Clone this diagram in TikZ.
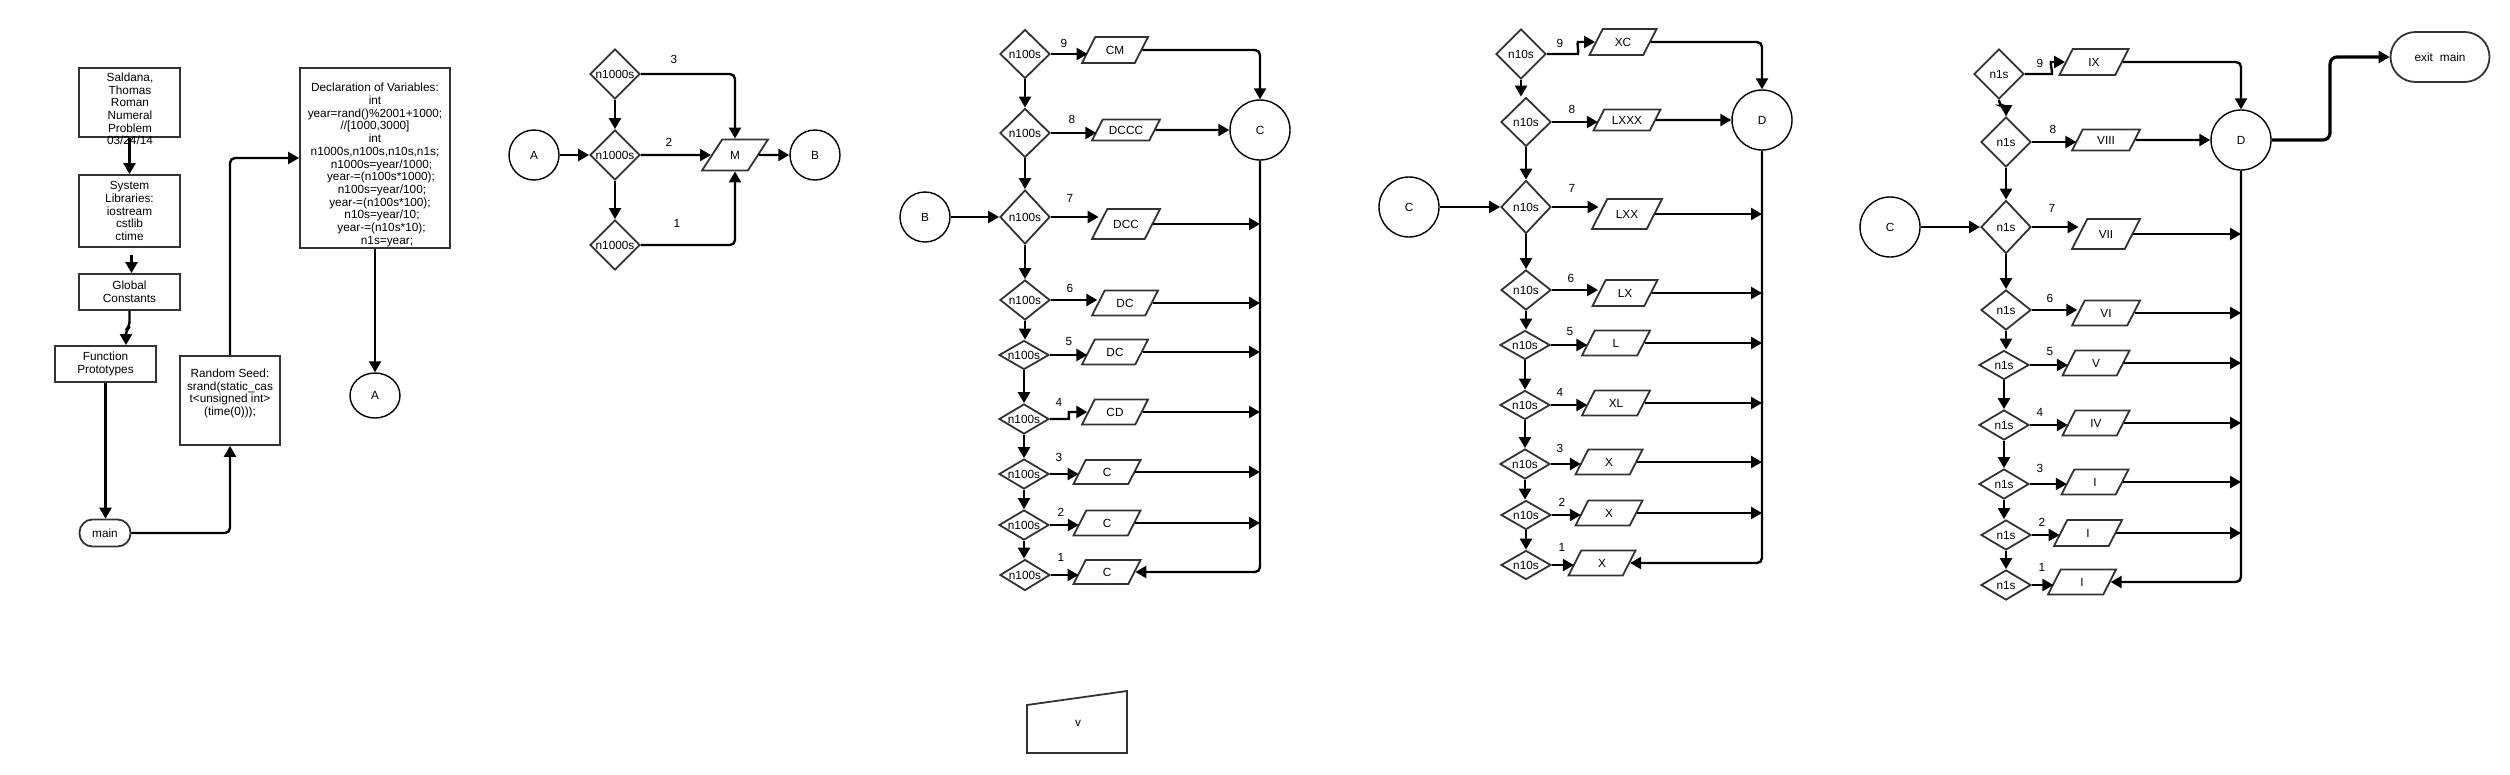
\documentclass[tikz,border=0pt]{standalone}
\usepackage{fontspec}
\setmainfont{Liberation Sans}
\usetikzlibrary{shapes.geometric,arrows.meta,calc}
\newcommand\myfs{\fontsize{11.8}{12.7}\selectfont}
\definecolor{shapegray}{HTML}{333333}
\tikzset{
  shp/.style={draw=shapegray, line width=1.8pt},
  box/.style={shp, rectangle, inner sep=0pt, align=center},
  dia/.style={shp, diamond, inner sep=0pt, minimum width=50pt},
  para/.style={shp, trapezium, trapezium left angle=63, trapezium right angle=117,
    trapezium stretches body, inner xsep=0pt, text height=8.5pt, text depth=0pt,
    inner ysep={(#1pt-8.5pt)/2}, minimum width=67pt},
  para/.default=25,
  circ/.style={draw=black, line width=1.4pt, circle, inner sep=0pt},
  arr/.style={draw=black, line width=2.4pt, rounded corners=5pt, -{Triangle[length=11pt,width=12pt]}},
  lbl/.style={inner sep=0pt},
  txt/.style={align=center, inner sep=0pt},
  every label/.style={inner sep=0pt}
}
\begin{document}
\begin{tikzpicture}[x=1pt, y=-1pt, font=\myfs]
\useasboundingbox (0,0) rectangle (2510,774);
\fill[white] (0,0) rectangle (2510,774);

% ---------- section 1 ----------
\node[box, minimum width=101pt, minimum height=69pt] (sald) at (129.5,102.5) {};
\node[txt] (saldt) at (130,109) {Saldana,\\Thomas\\Roman\\Numeral\\Problem\\03/24/14};
\node[box, minimum width=101pt, minimum height=72pt] (sys) at (129.5,211) {System\\Libraries:\\iostream\\cstlib\\ctime};
\node[box, minimum width=101pt, minimum height=36pt] (glob) at (129.5,292) {Global\\Constants};
\node[box, minimum width=101pt, minimum height=36pt] (func) at (105.5,364) {Function\\Prototypes};
\node[shp, rounded corners=13pt, minimum width=51pt, minimum height=27pt, inner sep=0pt] (main) at (105,533) {main};
\node[box, minimum width=100pt, minimum height=89pt] (rand) at (230,400.5) {};
\node[txt] (randt) at (230,393.5) {Random Seed:\\srand(static\_cas\\t<unsigned int>\\(time(0)));};
\node[box, minimum width=150pt, minimum height=180pt] (decl) at (375,158) {};
\node[txt] (declt) at (375,165) {Declaration of Variables:\\int\\year=rand()\%2001+1000;\\//[1000,3000]\\int\\n1000s,n100s,n10s,n1s;\\
\hspace*{13pt}n1000s=year/1000;\\\hspace*{12pt}year-=(n100s*1000);\\\hspace*{14pt}n100s=year/100;\\\hspace*{10pt}year-=(n100s*100);\\\hspace*{14pt}n10s=year/10;\\\hspace*{13pt}year-=(n10s*10);\\\hspace*{24pt}n1s=year;};
\node[circ, ellipse, minimum width=50pt, minimum height=45pt] (A1) at (375,395.5) {A};
\coordinate (sg) at (131.5,255);
\coordinate (fx) at (126,0);

\draw[arr] (sald.south) -- (sys.north);
\draw[arr] (sg) -- (sg |- glob.north);
\draw[arr] (glob.south) -- ++(0,16) -- ++(-3.5,3) -- (func.north -| fx);
\draw[arr] (func.south) -- (func.south |- main.north);
\draw[arr] (main) -| (rand);
\draw[arr] (rand) |- (decl);
\draw[arr] (decl.south) -- (A1.north);

% ---------- section 2 : n1000s ----------
\node[dia, minimum height=50pt, label=center:n1000s] (k3) at (615,74) {};
\node[dia, minimum height=50pt, label=center:n1000s] (k2) at (615,155) {};
\node[dia, minimum height=50pt, label=center:n1000s] (k1) at (615,245) {};
\node[circ, minimum size=50pt] (A2) at (534,155) {A};
\node[para=31, trapezium left angle=57, trapezium right angle=123, minimum width=66pt] (M) at (735,155) {M};
\node[circ, minimum size=50pt] (B2) at (815,155) {B};
\node[lbl] (k3l) at (674,59) {3};
\node[lbl] (k2l) at (669,142) {2};
\node[lbl] (k1l) at (677,223) {1};
\draw[arr] (k3) -| (M);
\draw[arr] (k2) -- (M);
\draw[arr] (k1) -| (M);
\draw[arr] (k3) -- (k2);
\draw[arr] (k2) -- (k1);
\draw[arr] (A2) -- (k2);
\draw[arr] (M) -- (B2);

% ---------- section 3 : n100s ----------
\node[dia, minimum height=49pt, label=center:n100s] (h9) at (1025,54) {};
\node[para=26, minimum width=66pt] (h9p) at (1115,50) {CM};
\node[lbl] (h9l) at (1064,43) {9};
\node[dia, minimum height=49pt, label=center:n100s] (h8) at (1025,133) {};
\node[para=21, minimum width=68pt] (h8p) at (1126,130) {DCCC};
\node[lbl] (h8l) at (1072,119) {8};
\node[circ, minimum size=60pt] (C1) at (1260,130) {C};
\node[circ, minimum size=50pt] (B1) at (925,217) {B};
\node[dia, minimum height=54pt, label=center:n100s] (h7) at (1025,217) {};
\node[para=30, minimum width=68pt] (h7p) at (1126,224) {DCC};
\node[lbl] (h7l) at (1070,198) {7};
\node[dia, minimum height=40pt, label=center:n100s] (h6) at (1025,300) {};
\node[para, minimum width=66pt] (h6p) at (1125,303) {DC};
\node[lbl] (h6l) at (1070,288) {6};
\node[dia, minimum height=29pt, label=center:n100s] (h5) at (1024,355) {};
\node[para, minimum width=66pt] (h5p) at (1115,352) {DC};
\node[lbl] (h5l) at (1069,341) {5};
\node[dia, minimum height=30pt, label=center:n100s] (h4) at (1024,419) {};
\node[para, minimum width=66pt] (h4p) at (1115,412) {CD};
\node[lbl] (h4l) at (1059,402) {4};
\node[dia, minimum height=30pt, label=center:n100s] (h3) at (1024,474) {};
\node[para=24] (h3p) at (1107,472) {C};
\node[lbl] (h3l) at (1059,457) {3};
\node[dia, minimum height=30pt, label=center:n100s] (h2) at (1024,525) {};
\node[para] (h2p) at (1107,523) {C};
\node[lbl] (h2l) at (1061,512) {2};
\node[dia, minimum height=31pt, label=center:n100s] (h1) at (1025,575) {};
\node[para=24] (h1p) at (1107,572) {C};
\node[lbl] (h1l) at (1061,557) {1};

\draw[arr] (h9.south) -- (h9.south |- h8.north);
\draw[arr] (h8.south) -- (h8.south |- h7.north);
\draw[arr] (h7.south) -- (h7.south |- h6.north);
\draw[arr] (h6.south) -- (h6.south |- h5.north);
\draw[arr] (h5.south) -- (h5.south |- h4.north);
\draw[arr] (h4.south) -- (h4.south |- h3.north);
\draw[arr] (h3.south) -- (h3.south |- h2.north);
\draw[arr] (h2.south) -- (h2.south |- h1.north);
\draw[arr] (h9.east) -- (h9.east -| h9p.west);
\draw[arr] (h9p.east) -| (C1.north);
\draw[arr] (h8.east) -- (h8.east -| h8p.west);
\draw[arr] (h8p) -- (C1);
\draw[arr] (B1) -- (h7);
\draw[arr] (h7.east) -- (h7.east -| h7p.west);
\draw[arr] (h6.east) -- (h6.east -| h6p.west);
\draw[arr] (h5.east) -- (h5.east -| h5p.west);
\draw[arr] (h4.east) -- ++(14,0) to[out=0,in=180] ++(10,-7) -- (h4p.west);
\draw[arr] (h3.east) -- (h3.east -| h3p.west);
\draw[arr] (h2.east) -- (h2.east -| h2p.west);
\draw[arr] (h1.east) -- (h1.east -| h1p.west);
\draw[arr] (h7p.east) -- (h7p.east -| C1.south);
\draw[arr] (h6p.east) -- (h6p.east -| C1.south);
\draw[arr] (h5p.east) -- (h5p.east -| C1.south);
\draw[arr] (h4p.east) -- (h4p.east -| C1.south);
\draw[arr] (h3p.east) -- (h3p.east -| C1.south);
\draw[arr] (h2p.east) -- (h2p.east -| C1.south);
\draw[arr] (C1.south) |- (h1p.east);

% ---------- section 4 : n10s ----------
\node[dia, minimum height=50pt, label=center:n10s] (t9) at (1521,54) {};
\node[para=26] (t9p) at (1623,42) {XC};
\node[lbl] (t9l) at (1560,43) {9};
\node[circ, minimum size=60pt] (D1) at (1762,120) {D};
\node[dia, minimum height=49pt, label=center:n10s] (t8) at (1526,122) {};
\node[para=21] (t8p) at (1627,120) {LXXX};
\node[lbl] (t8l) at (1572,109) {8};
\node[circ, minimum size=60pt] (C2) at (1409,207) {C};
\node[dia, minimum height=53pt, label=center:n10s] (t7) at (1526,207) {};
\node[para=30, minimum width=70pt] (t7p) at (1627,214) {LXX};
\node[lbl] (t7l) at (1572,188) {7};
\node[dia, minimum height=40pt, label=center:n10s] (t6) at (1526,290) {};
\node[para=26, minimum width=65pt] (t6p) at (1625,293) {LX};
\node[lbl] (t6l) at (1571,278) {6};
\node[dia, minimum height=29pt, label=center:n10s] (t5) at (1525,345) {};
\node[para, minimum width=68pt] (t5p) at (1616,343) {L};
\node[lbl] (t5l) at (1570,331) {5};
\node[dia, minimum height=29pt, label=center:n10s] (t4) at (1525,405) {};
\node[para, minimum width=68pt] (t4p) at (1616,403) {XL};
\node[lbl] (t4l) at (1560,392) {4};
\node[dia, minimum height=30pt, label=center:n10s] (t3) at (1525,464) {};
\node[para] (t3p) at (1609,462) {X};
\node[lbl] (t3l) at (1560,448) {3};
\node[dia, minimum height=29pt, label=center:n10s] (t2) at (1526,515) {};
\node[para] (t2p) at (1609,513) {X};
\node[lbl] (t2l) at (1562,502) {2};
\node[dia, minimum height=29pt, label=center:n10s] (t1) at (1526,565) {};
\node[para] (t1p) at (1602,563) {X};
\node[lbl] (t1l) at (1562,547) {1};

\draw[arr] (t9.south) -- (t9.south |- t8.north);
\draw[arr] (t8.south) -- (t8.south |- t7.north);
\draw[arr] (t7.south) -- (t7.south |- t6.north);
\draw[arr] (t6.south) -- (t6.south |- t5.north);
\draw[arr] (t5.south) -- (t5.south |- t4.north);
\draw[arr] (t4.south) -- (t4.south |- t3.north);
\draw[arr] (t3.south) -- (t3.south |- t2.north);
\draw[arr] (t2.south) -- (t2.south |- t1.north);
\draw[arr] (t9.east) -- ++(26,0) to[out=0,in=180] ++(10,-12) -- (t9p.west);
\draw[arr] (t9p.east) -| (D1.north);
\draw[arr] (t8.east) -- (t8.east -| t8p.west);
\draw[arr] (t8p) -- (D1);
\draw[arr] (C2) -- (t7);
\draw[arr] (t7.east) -- (t7.east -| t7p.west);
\draw[arr] (t6.east) -- (t6.east -| t6p.west);
\draw[arr] (t5.east) -- (t5.east -| t5p.west);
\draw[arr] (t4.east) -- (t4.east -| t4p.west);
\draw[arr] (t3.east) -- (t3.east -| t3p.west);
\draw[arr] (t2.east) -- (t2.east -| t2p.west);
\draw[arr] (t1.east) -- (t1.east -| t1p.west);
\draw[arr] (t7p.east) -- (t7p.east -| D1.south);
\draw[arr] (t6p.east) -- (t6p.east -| D1.south);
\draw[arr] (t5p.east) -- (t5p.east -| D1.south);
\draw[arr] (t4p.east) -- (t4p.east -| D1.south);
\draw[arr] (t3p.east) -- (t3p.east -| D1.south);
\draw[arr] (t2p.east) -- (t2p.east -| D1.south);
\draw[arr] (D1.south) |- (t1p.east);

% ---------- section 5 : n1s ----------
\node[dia, minimum height=50pt, label=center:n1s] (o9) at (1999,74) {};
\node[para=26, minimum width=69pt] (o9p) at (2094,62) {IX};
\node[lbl] (o9l) at (2040,63) {9};
\node[circ, minimum size=60pt] (D2) at (2241,140) {D};
\node[dia, minimum height=50pt, label=center:n1s] (o8) at (2006,142) {};
\node[para=21, minimum width=68pt] (o8p) at (2106,140) {VIII};
\node[lbl] (o8l) at (2053,129) {8};
\node[shp, rounded corners=25pt, minimum width=99pt, minimum height=50pt, inner sep=0pt] (exit) at (2440,57) {exit\hspace{7pt}main};
\node[circ, minimum size=60pt] (C3) at (1890,227) {C};
\node[dia, minimum height=53pt, label=center:n1s] (o7) at (2006,227) {};
\node[para=30, minimum width=68pt] (o7p) at (2106,234) {VII};
\node[lbl] (o7l) at (2052,208) {7};
\node[dia, minimum height=40pt, label=center:n1s] (o6) at (2006,310) {};
\node[para, minimum width=68pt] (o6p) at (2106,313) {VI};
\node[lbl] (o6l) at (2050,298) {6};
\node[dia, minimum height=29pt, label=center:n1s] (o5) at (2004,365) {};
\node[para] (o5p) at (2096,363) {V};
\node[lbl] (o5l) at (2050,351) {5};
\node[dia, minimum height=30pt, label=center:n1s] (o4) at (2004,425) {};
\node[para] (o4p) at (2096,423) {IV};
\node[lbl] (o4l) at (2040,412) {4};
\node[dia, minimum height=30pt, label=center:n1s] (o3) at (2004,484) {};
\node[para] (o3p) at (2095,482) {I};
\node[lbl] (o3l) at (2040,468) {3};
\node[dia, minimum height=30pt, label=center:n1s] (o2) at (2006,535) {};
\node[para=26, minimum width=68pt] (o2p) at (2088,533) {I};
\node[lbl] (o2l) at (2042,522) {2};
\node[dia, minimum height=30pt, label=center:n1s] (o1) at (2006,585) {};
\node[para, minimum width=68pt] (o1p) at (2082,582) {I};
\node[lbl] (o1l) at (2042,567) {1};
\coordinate (ej) at (2330,140);

\draw[arr] (o9.south) -- ++(0,6) -| (o8.north);
\draw[arr] (o8.south) -- (o8.south |- o7.north);
\draw[arr] (o7.south) -- (o7.south |- o6.north);
\draw[arr] (o6.south) -- (o6.south |- o5.north);
\draw[arr] (o5.south) -- (o5.south |- o4.north);
\draw[arr] (o4.south) -- (o4.south |- o3.north);
\draw[arr] (o3.south) -- (o3.south |- o2.north);
\draw[arr] (o2.south) -- (o2.south |- o1.north);
\draw[arr] (o9.east) -- ++(22,0) to[out=0,in=180] ++(9,-12) -- (o9p.west);
\draw[arr] (o9p.east) -| (D2.north);
\draw[arr] (o8.east) -- (o8.east -| o8p.west);
\draw[arr] (o8p) -- (D2);
\draw[arr, line width=3.2pt, rounded corners=7pt] (D2.east) -- (ej) |- (exit.west);
\draw[arr] (C3) -- (o7);
\draw[arr] (o7.east) -- (o7.east -| o7p.west);
\draw[arr] (o6.east) -- (o6.east -| o6p.west);
\draw[arr] (o5.east) -- (o5.east -| o5p.west);
\draw[arr] (o4.east) -- (o4.east -| o4p.west);
\draw[arr] (o3.east) -- (o3.east -| o3p.west);
\draw[arr] (o2.east) -- (o2.east -| o2p.west);
\draw[arr] (o1.east) -- (o1.east -| o1p.west);
\draw[arr] (o7p.east) -- (o7p.east -| D2.south);
\draw[arr] (o6p.east) -- (o6p.east -| D2.south);
\draw[arr] (o5p.east) -- (o5p.east -| D2.south);
\draw[arr] (o4p.east) -- (o4p.east -| D2.south);
\draw[arr] (o3p.east) -- (o3p.east -| D2.south);
\draw[arr] (o2p.east) -- (o2p.east -| D2.south);
\draw[arr] (D2.south) |- (o1p.east);

% ---------- manual input ----------
\draw[shp] (1027,705) -- (1127,691) -- (1127,753) -- (1027,753) -- cycle;
\node[lbl] (vt) at (1078,723) {v};
\end{tikzpicture}
\end{document}
